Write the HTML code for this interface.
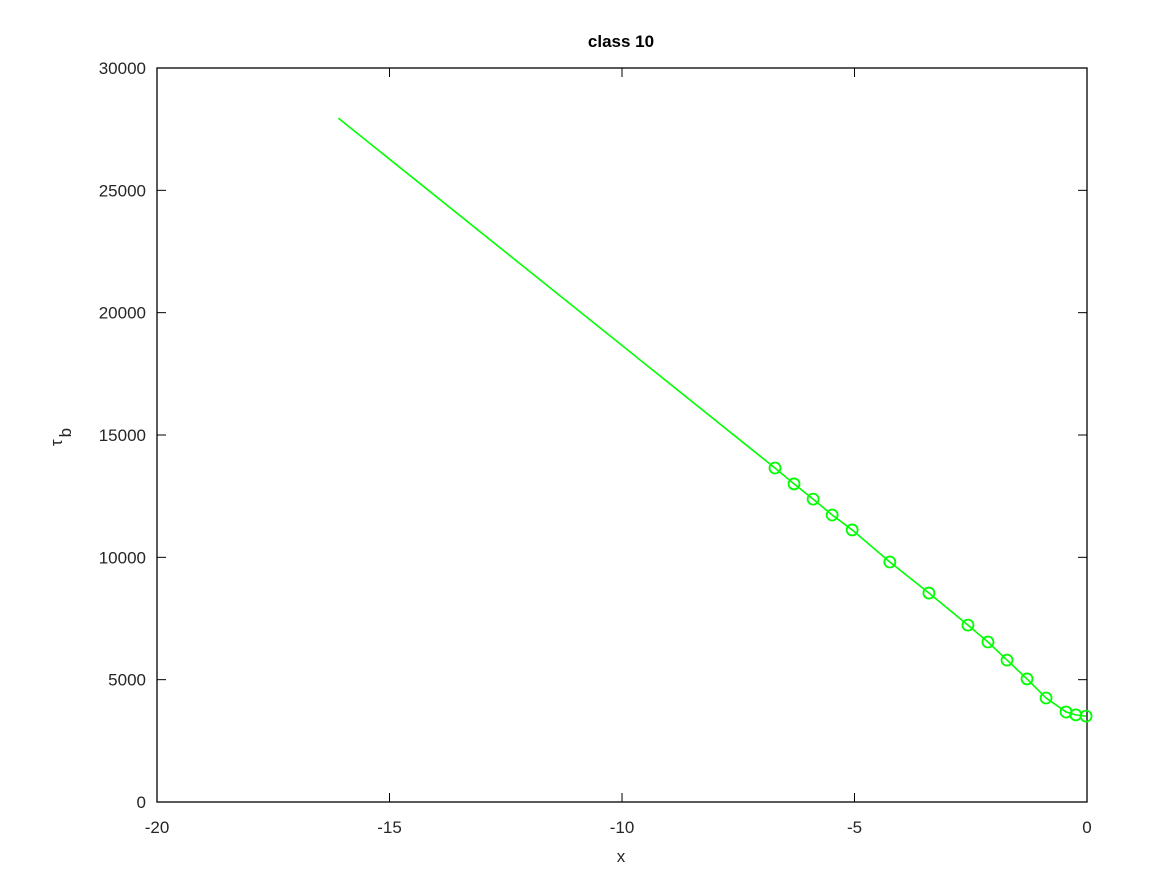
<!DOCTYPE html>
<html><head><meta charset="utf-8"><style>
body{margin:0;background:#fff;}
svg text{font-family:"Liberation Sans",sans-serif;fill:#262626;}
</style></head><body>
<svg id="chart" width="1167" height="875" xmlns="http://www.w3.org/2000/svg">
<rect width="1167" height="875" fill="#fff"/>
<text x="621" y="47" text-anchor="middle" font-size="17" font-weight="bold" style="fill:#000">class 10</text>
<g id="axes"></g>
<g id="series"></g>
<text x="621" y="862" text-anchor="middle" font-size="17">x</text>
<text transform="translate(62,437) rotate(-90)" text-anchor="middle" font-size="17">τ<tspan dy="9" font-size="17" dx="2">b</tspan></text>
</svg>
<script>
const xTicks=[-20,-15,-10,-5,0];
const yTicks=[0,5000,10000,15000,20000,25000,30000];
const lineX=[-16.1,-6.71];
const lineY=[27950,13650];
const markX=[-6.71,-6.30,-5.89,-5.48,-5.05,-4.24,-3.40,-2.56,-2.13,-1.72,-1.29,-0.88,-0.45,-0.24,-0.02];
const markY=[13650,13000,12380,11730,11120,9810,8540,7230,6540,5800,5030,4250,3680,3560,3510];
const L=157,R=1087,T=68,B=802;
const sx=v=>L+(v+20)/20*(R-L);
const sy=v=>B-v/30000*(B-T);
const NS='http://www.w3.org/2000/svg';
const ax=document.getElementById('axes'),se=document.getElementById('series');
function mk(tag,attrs,parent){const e=document.createElementNS(NS,tag);for(const k in attrs)e.setAttribute(k,attrs[k]);parent.appendChild(e);return e;}
const box=mk('rect',{x:L,y:T,width:R-L,height:B-T,fill:'none',stroke:'#000','stroke-width':1.3},ax);


xTicks.forEach(v=>{const x=sx(v);
mk('line',{x1:x,x2:x,y1:B,y2:B-9,stroke:'#000'},ax);
mk('line',{x1:x,x2:x,y1:T,y2:T+9,stroke:'#000'},ax);
const t=mk('text',{x:x,y:B+31,'text-anchor':'middle','font-size':17},ax);t.textContent=v;

});
yTicks.forEach(v=>{const y=sy(v);
mk('line',{x1:L,x2:L+9,y1:y,y2:y,stroke:'#000'},ax);
mk('line',{x1:R,x2:R-9,y1:y,y2:y,stroke:'#000'},ax);
const t=mk('text',{x:L-11,y:y+6,'text-anchor':'end','font-size':17},ax);t.textContent=v;

});
let pts=lineX.map((v,i)=>sx(v)+','+sy(lineY[i]));
pts=pts.concat(markX.map((v,i)=>sx(v)+','+sy(markY[i])));
const pl=mk('polyline',{points:pts.join(' '),fill:'none',stroke:'#00ff00','stroke-width':1.6},se);


markX.forEach((v,i)=>{const c=mk('circle',{cx:sx(v),cy:sy(markY[i]),r:5.5,fill:'none',stroke:'#00ff00','stroke-width':1.8},se);

});
</script>
</body></html>
